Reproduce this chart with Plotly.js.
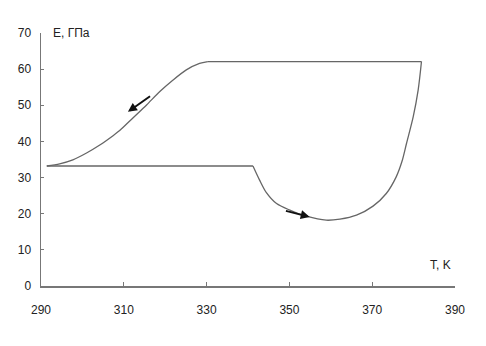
<!DOCTYPE html>
<html>
<head>
<meta charset="utf-8">
<script src="https://cdn.plot.ly/plotly-3.0.1.min.js"></script>
<style>html,body{margin:0;padding:0;background:#fff;}#chart{width:486px;height:346px;}</style>
</head>
<body>
<div id="chart"></div>
<script>
// Temperature T (K) and modulus E (GPa), loop split into its four parts
var lowFlatT = [291.4, 341.2];
var lowFlatE = [33.2, 33.2];
var dipT = [341.2, 342.8, 344.4, 346.9, 350.1, 354.1, 358.9, 362.2, 366.2, 370.2, 373.4, 375.8, 377.2, 378.3, 379.9, 381.1, 381.9];
var dipE = [33.2, 29.3, 25.9, 22.8, 21.0, 19.3, 18.2, 18.5, 19.6, 22.1, 25.6, 30.2, 34.5, 39.5, 46.8, 54.2, 62.1];
var topFlatT = [381.9, 330.3];
var topFlatE = [62.1, 62.1];
var riseT = [330.3, 328.3, 325.1, 321.9, 318.7, 315.5, 312.2, 309.0, 307.4, 304.2, 301.0, 297.7, 294.5, 291.4];
var riseE = [62.1, 61.6, 59.8, 57.0, 53.8, 50.1, 46.5, 43.0, 41.6, 39.0, 36.8, 34.9, 33.8, 33.2];
// direction arrows: tail -> tip
var arrowTailT = [316.7, 348.8];
var arrowTailE = [52.8, 20.9];
var arrowTipT = [311.0, 354.9];
var arrowTipE = [48.2, 19.1];
var xTicks = [290, 310, 330, 350, 370, 390];
var yTicks = [0, 10, 20, 30, 40, 50, 60, 70];

var font = {family: '"Liberation Sans", Arial, sans-serif', size: 12, color: '#222'};

var annotations = [];
for (var i = 0; i < arrowTipT.length; i++) {
  annotations.push({
    x: arrowTipT[i], y: arrowTipE[i], xref: 'x', yref: 'y',
    ax: arrowTailT[i], ay: arrowTailE[i], axref: 'x', ayref: 'y',
    text: '', showarrow: true, arrowhead: 2, arrowsize: 0.9, arrowwidth: 2, arrowcolor: '#111'
  });
}
annotations.push({text: 'E, ГПа', xref: 'paper', yref: 'paper', x: 0.025, y: 1.0, xanchor: 'left', yanchor: 'middle', showarrow: false, font: font});
annotations.push({text: 'T, K', xref: 'paper', yref: 'paper', x: 0.995, y: 0.083, xanchor: 'right', yanchor: 'middle', showarrow: false, font: font});

function seg(x, y, shape) {
  return {x: x, y: y, type: 'scatter', mode: 'lines',
    line: {color: '#666', width: 1.3, shape: shape, smoothing: 0.8}, hoverinfo: 'none'};
}
var data = [
  seg(lowFlatT, lowFlatE, 'linear'),
  seg(dipT, dipE, 'spline'),
  seg(topFlatT, topFlatE, 'linear'),
  seg(riseT, riseE, 'spline')
];

var layout = {
  width: 486, height: 346,
  margin: {l: 41, r: 31, t: 33, b: 60, pad: 0},
  paper_bgcolor: '#fff', plot_bgcolor: '#fff',
  showlegend: false,
  font: font,
  xaxis: {
    range: [290, 390], tickvals: xTicks, ticktext: xTicks.map(String),
    showgrid: false, zeroline: false, showline: true, linecolor: '#777', linewidth: 1.5,
    ticks: 'inside', ticklen: 4, tickcolor: '#777', tickwidth: 1.2,
    ticklabelstandoff: 12, tickfont: font
  },
  yaxis: {
    range: [0, 70], tickvals: yTicks, ticktext: yTicks.map(String),
    showgrid: false, zeroline: false, showline: true, linecolor: '#777', linewidth: 1.5,
    ticks: 'inside', ticklen: 3, tickcolor: '#777', tickwidth: 1.2,
    ticklabelstandoff: 6, tickfont: font
  },
  annotations: annotations
};

Plotly.newPlot('chart', data, layout, {staticPlot: true, displayModeBar: false});
</script>
</body>
</html>
